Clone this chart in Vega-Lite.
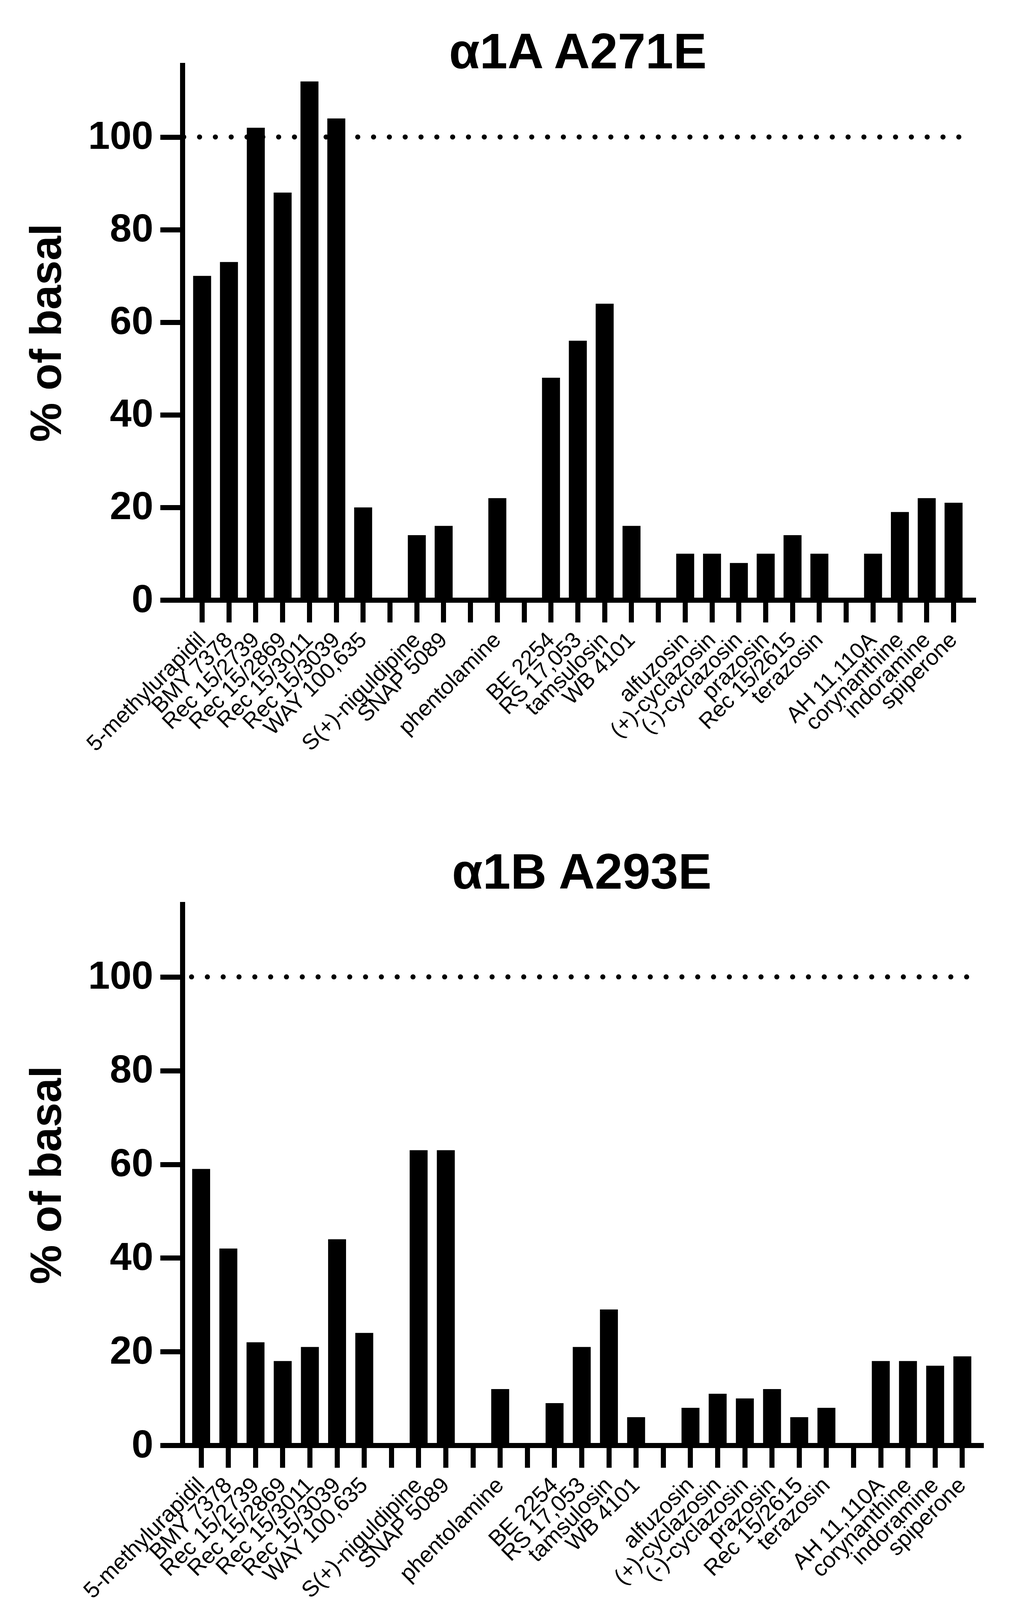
{
  "$schema": "https://vega.github.io/schema/vega-lite/v6.json",
  "background": "white",
  "padding": {"left": 65, "top": 73, "right": 30, "bottom": 20},
  "spacing": 239,
  "config": {
    "font": "Liberation Sans",
    "view": {"stroke": null},
    "axis": {
      "domainColor": "black", "tickColor": "black", "labelColor": "black", "titleColor": "black",
      "domainWidth": 13, "tickWidth": 13, "tickSize": 57, "grid": false, "domainCap": "square"
    },
    "title": {"font": "Liberation Sans", "fontSize": 128, "fontWeight": "bold", "color": "black", "anchor": "middle", "baseline": "alphabetic", "frame": "group"}
  },
  "datasets": {
    "a1a": [
      {"drug": "5-methylurapidil", "value": 70},
      {"drug": "BMY 7378", "value": 73},
      {"drug": "Rec 15/2739", "value": 102},
      {"drug": "Rec 15/2869", "value": 88},
      {"drug": "Rec 15/3011", "value": 112},
      {"drug": "Rec 15/3039", "value": 104},
      {"drug": "WAY 100,635", "value": 20},
      {"drug": "S(+)-niguldipine", "value": 14},
      {"drug": "SNAP 5089", "value": 16},
      {"drug": "phentolamine", "value": 22},
      {"drug": "BE 2254", "value": 48},
      {"drug": "RS 17,053", "value": 56},
      {"drug": "tamsulosin", "value": 64},
      {"drug": "WB 4101", "value": 16},
      {"drug": "alfuzosin", "value": 10},
      {"drug": "(+)-cyclazosin", "value": 10},
      {"drug": "(-)-cyclazosin", "value": 8},
      {"drug": "prazosin", "value": 10},
      {"drug": "Rec 15/2615", "value": 14},
      {"drug": "terazosin", "value": 10},
      {"drug": "AH 11,110A", "value": 10},
      {"drug": "corynanthine", "value": 19},
      {"drug": "indoramine", "value": 22},
      {"drug": "spiperone", "value": 21}
    ],
    "a1b": [
      {"drug": "5-methylurapidil", "value": 59},
      {"drug": "BMY 7378", "value": 42},
      {"drug": "Rec 15/2739", "value": 22},
      {"drug": "Rec 15/2869", "value": 18},
      {"drug": "Rec 15/3011", "value": 21},
      {"drug": "Rec 15/3039", "value": 44},
      {"drug": "WAY 100,635", "value": 24},
      {"drug": "S(+)-niguldipine", "value": 63},
      {"drug": "SNAP 5089", "value": 63},
      {"drug": "phentolamine", "value": 12},
      {"drug": "BE 2254", "value": 9},
      {"drug": "RS 17,053", "value": 21},
      {"drug": "tamsulosin", "value": 29},
      {"drug": "WB 4101", "value": 6},
      {"drug": "alfuzosin", "value": 8},
      {"drug": "(+)-cyclazosin", "value": 11},
      {"drug": "(-)-cyclazosin", "value": 10},
      {"drug": "prazosin", "value": 12},
      {"drug": "Rec 15/2615", "value": 6},
      {"drug": "terazosin", "value": 8},
      {"drug": "AH 11,110A", "value": 18},
      {"drug": "corynanthine", "value": 18},
      {"drug": "indoramine", "value": 17},
      {"drug": "spiperone", "value": 19}
    ],
    "ref": [{"basal": 100}]
  },
  "vconcat": [
    {
      "width": 2025,
      "height": 1369,
      "title": {"text": "α1A A271E", "offset": -35},
      "layer": [
        {
          "data": {"name": "a1a"},
          "mark": {"type": "bar", "color": "black"},
          "encoding": {
            "x": {
              "field": "drug", "type": "nominal",
              "scale": {
                "domain": ["5-methylurapidil", "BMY 7378", "Rec 15/2739", "Rec 15/2869", "Rec 15/3011", "Rec 15/3039", "WAY 100,635", "gap1", "S(+)-niguldipine", "SNAP 5089", "gap2", "phentolamine", "gap3", "BE 2254", "RS 17,053", "tamsulosin", "WB 4101", "gap4", "alfuzosin", "(+)-cyclazosin", "(-)-cyclazosin", "prazosin", "Rec 15/2615", "terazosin", "gap5", "AH 11,110A", "corynanthine", "indoramine", "spiperone"],
                "paddingInner": 0.33, "paddingOuter": 0.4
              },
              "axis": {
                "title": null, "labelAngle": -45, "labelAlign": "right", "labelBaseline": "middle",
                "labelFontSize": 57, "labelPadding": 36, "labelLimit": 1000,
                "labelExpr": "indexof(datum.label, 'gap') === 0 ? '' : datum.label"
              }
            },
            "y": {
              "field": "value", "type": "quantitative",
              "scale": {"domain": [0, 115.5], "nice": false},
              "axis": {
                "title": "% of basal", "values": [0, 20, 40, 60, 80, 100],
                "labelFontSize": 100, "labelFontWeight": "bold", "labelPadding": 18,
                "titleFontSize": 113, "titleFontWeight": "bold", "titlePadding": 88
              }
            }
          }
        },
        {
          "data": {"name": "ref"},
          "mark": {"type": "rule", "color": "black", "strokeWidth": 13, "strokeCap": "round", "strokeDash": [0.1, 40.4], "strokeDashOffset": 3.5},
          "encoding": {"y": {"field": "basal", "type": "quantitative"}}
        }
      ]
    },
    {
      "width": 2045,
      "height": 1385,
      "title": {"text": "α1B A293E", "offset": 13},
      "layer": [
        {
          "data": {"name": "a1b"},
          "mark": {"type": "bar", "color": "black"},
          "encoding": {
            "x": {
              "field": "drug", "type": "nominal",
              "scale": {
                "domain": ["5-methylurapidil", "BMY 7378", "Rec 15/2739", "Rec 15/2869", "Rec 15/3011", "Rec 15/3039", "WAY 100,635", "gap1", "S(+)-niguldipine", "SNAP 5089", "gap2", "phentolamine", "gap3", "BE 2254", "RS 17,053", "tamsulosin", "WB 4101", "gap4", "alfuzosin", "(+)-cyclazosin", "(-)-cyclazosin", "prazosin", "Rec 15/2615", "terazosin", "gap5", "AH 11,110A", "corynanthine", "indoramine", "spiperone"],
                "paddingInner": 0.34, "paddingOuter": 0.36
              },
              "axis": {
                "title": null, "labelAngle": -45, "labelAlign": "right", "labelBaseline": "middle",
                "labelFontSize": 58, "labelPadding": 36, "labelLimit": 1000,
                "labelExpr": "indexof(datum.label, 'gap') === 0 ? '' : datum.label"
              }
            },
            "y": {
              "field": "value", "type": "quantitative",
              "scale": {"domain": [0, 115.5], "nice": false},
              "axis": {
                "title": "% of basal", "values": [0, 20, 40, 60, 80, 100],
                "labelFontSize": 100, "labelFontWeight": "bold", "labelPadding": 18,
                "titleFontSize": 113, "titleFontWeight": "bold", "titlePadding": 88
              }
            }
          }
        },
        {
          "data": {"name": "ref"},
          "mark": {"type": "rule", "color": "black", "strokeWidth": 13, "strokeCap": "round", "strokeDash": [0.1, 40.4], "strokeDashOffset": 3.5},
          "encoding": {"y": {"field": "basal", "type": "quantitative"}}
        }
      ]
    }
  ]
}
